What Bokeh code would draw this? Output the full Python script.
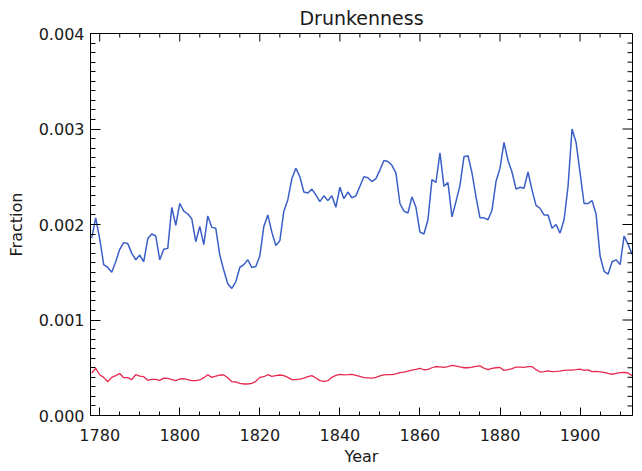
import numpy as np
from bokeh.plotting import figure
from bokeh.models import Range1d, LinearAxis, SingleIntervalTicker, NumeralTickFormatter, ColumnDataSource
from bokeh.embed import file_html
from bokeh.resources import INLINE

years = list(range(1778, 1914))

blue_vals = [
    1.86, 2.07, 1.85, 1.58, 1.55, 1.50, 1.61, 1.74, 1.81, 1.80,
    1.70, 1.63, 1.68, 1.61, 1.85, 1.90, 1.88, 1.63, 1.74, 1.75,
    2.18, 1.99, 2.22, 2.14, 2.11, 2.06, 1.82, 1.98, 1.79, 2.09,
    1.97, 1.96, 1.68, 1.52, 1.38, 1.33, 1.40, 1.55, 1.58, 1.63,
    1.55, 1.56, 1.67, 1.98, 2.10, 1.92, 1.78, 1.83, 2.14, 2.26,
    2.48, 2.59, 2.50, 2.34, 2.33, 2.37, 2.31, 2.24, 2.30, 2.25,
    2.30, 2.18, 2.39, 2.27, 2.34, 2.28, 2.30, 2.40, 2.50, 2.49,
    2.45, 2.48, 2.57, 2.67, 2.66, 2.62, 2.54, 2.22, 2.14, 2.12,
    2.29, 2.18, 1.92, 1.90, 2.05, 2.47, 2.44, 2.75, 2.40, 2.44,
    2.08, 2.24, 2.41, 2.71, 2.72, 2.54, 2.29, 2.07, 2.07, 2.05,
    2.15, 2.45, 2.59, 2.86, 2.67, 2.55, 2.37, 2.39, 2.38, 2.55,
    2.36, 2.20, 2.17, 2.10, 2.10, 1.96, 2.00, 1.91, 2.05, 2.40,
    3.00, 2.86, 2.54, 2.22, 2.22, 2.25, 2.11, 1.67, 1.51, 1.48,
    1.61, 1.63, 1.58, 1.88, 1.79, 1.69,
]

red_vals = [
    0.445, 0.494, 0.427, 0.399, 0.354, 0.399, 0.417, 0.440, 0.396, 0.396,
    0.375, 0.427, 0.413, 0.406, 0.368, 0.379, 0.379, 0.368, 0.392, 0.389,
    0.375, 0.365, 0.382, 0.385, 0.375, 0.365, 0.365, 0.372, 0.396, 0.427,
    0.399, 0.413, 0.424, 0.424, 0.396, 0.354, 0.351, 0.337, 0.330, 0.330,
    0.337, 0.358, 0.399, 0.406, 0.427, 0.410, 0.417, 0.424, 0.417, 0.399,
    0.375, 0.375, 0.382, 0.392, 0.406, 0.417, 0.392, 0.365, 0.358, 0.365,
    0.400, 0.420, 0.430, 0.425, 0.427, 0.430, 0.420, 0.410, 0.396, 0.394,
    0.392, 0.400, 0.415, 0.426, 0.427, 0.427, 0.437, 0.448, 0.454, 0.465,
    0.475, 0.484, 0.493, 0.479, 0.484, 0.500, 0.513, 0.510, 0.503, 0.513,
    0.524, 0.518, 0.508, 0.500, 0.500, 0.507, 0.515, 0.520, 0.495, 0.480,
    0.494, 0.500, 0.503, 0.472, 0.480, 0.492, 0.506, 0.507, 0.503, 0.511,
    0.512, 0.480, 0.455, 0.460, 0.468, 0.460, 0.461, 0.465, 0.472, 0.476,
    0.476, 0.480, 0.486, 0.472, 0.478, 0.459, 0.462, 0.457, 0.452, 0.440,
    0.432, 0.442, 0.448, 0.452, 0.445, 0.417,
]

scale = 0.001
blue = [v * scale for v in blue_vals]
red = [v * scale for v in red_vals]

x_start, x_end = 1777.7, 1913.1
y_start, y_end = 0.0, 0.004
x_major, x_minor = 20, 5
y_major, y_minor = 0.001, 0.0001

FONT = "DejaVu Sans"
TXT = "#1a1a1a"

p = figure(width=640, height=468, output_backend="svg", toolbar_location=None,
           x_range=Range1d(x_start, x_end), y_range=Range1d(y_start, y_end),
           x_axis_type=None, y_axis_type=None,
           min_border_left=90, min_border_top=33, min_border_right=8, min_border_bottom=51)
p.title.text = "Drunkenness"
p.title.align = "center"
p.title.text_font = FONT
p.title.text_font_style = "normal"
p.title.text_font_size = "19px"
p.title.text_color = TXT
p.title.standoff = 9
p.title.offset = 0
p.outline_line_color = "black"
p.outline_line_width = 1
p.background_fill_color = "white"
p.border_fill_color = "white"

xt = SingleIntervalTicker(interval=x_major, num_minor_ticks=4)
yt = SingleIntervalTicker(interval=y_major, num_minor_ticks=10)

def style(ax, tin, min_in):
    ax.major_tick_in = tin
    ax.major_tick_out = 0
    ax.minor_tick_in = min_in
    ax.minor_tick_out = 0
    ax.axis_line_color = "black"
    ax.major_tick_line_color = "black"
    ax.minor_tick_line_color = "black"
    ax.major_label_text_font = FONT
    ax.major_label_text_color = TXT
    ax.major_label_text_font_size = "16px"
    ax.axis_label_text_font = FONT
    ax.axis_label_text_font_style = "normal"
    ax.axis_label_text_color = TXT
    ax.axis_label_text_font_size = "16px"

xb = LinearAxis(ticker=xt, axis_label="Year")
style(xb, 8, 4)
xb.major_label_standoff = 13
xb.axis_label_standoff = 3
p.add_layout(xb, "below")

yl = LinearAxis(ticker=yt, axis_label="Fraction", formatter=NumeralTickFormatter(format="0.000"))
style(yl, 10, 5)
yl.major_label_standoff = 6
yl.axis_label_standoff = 10
p.add_layout(yl, "left")

src = ColumnDataSource(dict(year=years, blue=blue, red=red))
p.line("year", "blue", source=src, line_color="#3B5FC8", line_width=1.5)
p.line("year", "red", source=src, line_color="#E8294F", line_width=1.3)

# mirrored inward ticks on the top and right edges of the box
tx = np.arange(np.ceil(x_start / x_minor) * x_minor, x_end, x_minor)
tx_major = tx[np.isclose(tx % x_major, 0)]
tx_minor = tx[~np.isclose(tx % x_major, 0)]
p.scatter(tx_major, np.full(len(tx_major), y_end), marker="dash", size=16, angle=np.pi / 2,
          line_color="black", line_width=1)
p.scatter(tx_minor, np.full(len(tx_minor), y_end), marker="dash", size=8, angle=np.pi / 2,
          line_color="black", line_width=1)

ty = np.round(np.arange(y_start + y_minor, y_end - y_minor / 2, y_minor), 6)
is_maj = np.isclose(np.round(ty / y_major, 6) % 1, 0)
p.scatter(np.full(int(is_maj.sum()), x_end), ty[is_maj], marker="dash", size=20,
          line_color="black", line_width=1)
p.scatter(np.full(int((~is_maj).sum()), x_end), ty[~is_maj], marker="dash", size=10,
          line_color="black", line_width=1)

open("out.html", "w").write(file_html(p, INLINE))
